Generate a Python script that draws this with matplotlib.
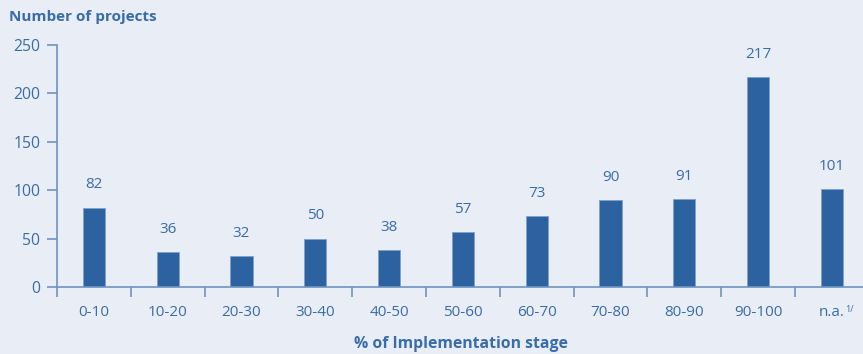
import matplotlib
matplotlib.use("Agg")
import matplotlib.pyplot as plt
import numpy as np

categories = ["0-10", "10-20", "20-30", "30-40", "40-50", "50-60",
              "60-70", "70-80", "80-90", "90-100", "n.a."]
projects = [82, 36, 32, 50, 38, 57, 73, 90, 91, 217, 101]
y_ticks = [0, 50, 100, 150, 200, 250]
footnote_mark = "1/"

bg = "#E9EEF6"
bar_color = "#2D62A0"
text_color = "#3A6CA8"
axis_color = "#6F93C2"

plt.rcParams["font.family"] = ["Open Sans", "DejaVu Sans"]

fig = plt.figure(figsize=(8.63, 3.54), dpi=100, facecolor=bg)
ax = fig.add_axes([57 / 863, 67 / 354, 806 / 863, 242 / 354])
ax.set_facecolor(bg)

x = np.arange(len(categories))
ax.bar(x, projects, width=0.3, color=bar_color, edgecolor="#7FA0CC", linewidth=0.6, zorder=2)

for xi, v in zip(x, projects):
    ax.annotate(str(v), (xi, v), xytext=(0, 11), textcoords="offset points",
                ha="center", va="bottom", fontsize=11, color=text_color)

ax.set_xlim(-0.5, -0.5 + 806 / 73.8)
ax.set_ylim(0, 250)

for s in ["top", "right"]:
    ax.spines[s].set_visible(False)
for s in ["left", "bottom"]:
    ax.spines[s].set_color(axis_color)
    ax.spines[s].set_linewidth(1.2)

ax.set_yticks(y_ticks)
ax.set_yticklabels([str(t) for t in y_ticks])
ax.tick_params(axis="y", direction="out", length=7, width=1.2, color=axis_color,
               labelcolor=text_color, labelsize=11.3, pad=5)

ax.set_xticks(x)
ax.set_xticklabels(categories)
ax.tick_params(axis="x", which="major", length=0, labelcolor=text_color,
               labelsize=11, pad=13)
ax.set_xticks(np.arange(-0.5, len(categories) - 0.5, 1.0), minor=True)
ax.tick_params(axis="x", which="minor", direction="out", length=7, width=1.2,
               color=axis_color)

# footnote marker next to the "n.a." category label
ax.annotate(footnote_mark, (x[-1], 0), xytext=(9.5, -16.5), textcoords="offset points",
            ha="left", va="center", fontsize=6.5, color=text_color,
            annotation_clip=False)

fig.text(9 / 863, 1 - 17 / 354, "Number of projects", fontsize=11, fontweight="bold",
         color=text_color, ha="left", va="center")
fig.text(461 / 863, 1 - 344 / 354, "% of Implementation stage", fontsize=11.3,
         fontweight="bold", color=text_color, ha="center", va="center")

fig.savefig("out.png", dpi=100, facecolor=bg)
